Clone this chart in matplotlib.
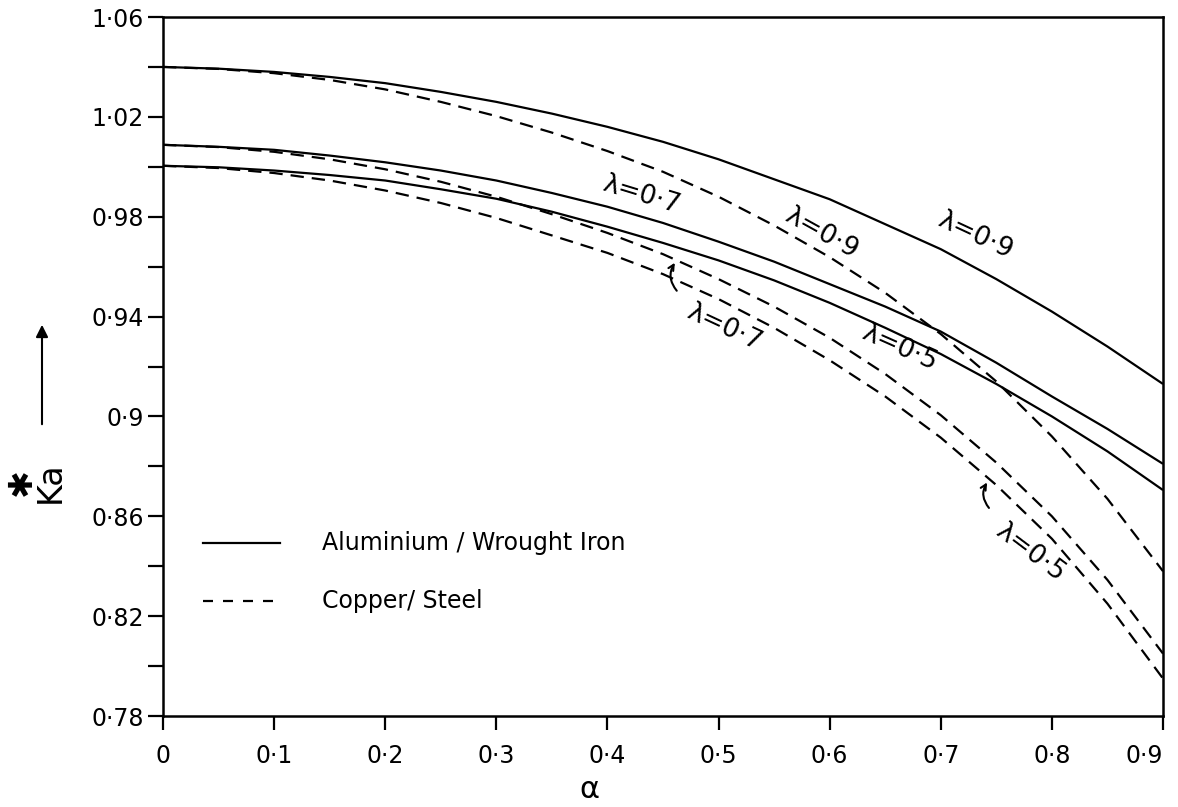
import matplotlib
matplotlib.use("Agg")
import matplotlib.pyplot as plt
from matplotlib.ticker import MultipleLocator, FixedLocator
from matplotlib.patches import FancyArrowPatch

plt.rcParams['font.family'] = ['DejaVu Sans']

# ---- data ----
alpha = [0.0, 0.05, 0.1, 0.15, 0.2, 0.25, 0.3, 0.35, 0.4, 0.45,
         0.5, 0.55, 0.6, 0.65, 0.7, 0.75, 0.8, 0.85, 0.9]

# Aluminium / Wrought Iron (solid)
al_l09 = [1.040, 1.0393, 1.038, 1.036, 1.0335, 1.030, 1.026, 1.0213, 1.016, 1.010,
          1.003, 0.995, 0.987, 0.977, 0.967, 0.955, 0.942, 0.928, 0.913]
al_l07 = [1.0088, 1.008, 1.0068, 1.0045, 1.0018, 0.9985, 0.9945, 0.9895, 0.984, 0.9775,
          0.970, 0.962, 0.953, 0.944, 0.934, 0.9215, 0.908, 0.895, 0.881]
al_l05 = [1.0004, 0.9998, 0.9985, 0.9967, 0.9945, 0.991, 0.9872, 0.982, 0.976, 0.9695,
          0.9625, 0.9545, 0.9455, 0.9355, 0.925, 0.913, 0.900, 0.886, 0.8705]

# Copper / Steel (dashed)
cu_l09 = [1.040, 1.0392, 1.0375, 1.0348, 1.031, 1.026, 1.0203, 1.0137, 1.0063, 0.998,
          0.988, 0.9765, 0.9638, 0.9495, 0.933, 0.914, 0.892, 0.867, 0.838]
cu_l07 = [1.0088, 1.0079, 1.006, 1.003, 0.999, 0.994, 0.988, 0.981, 0.9735, 0.965,
          0.955, 0.944, 0.9315, 0.917, 0.9005, 0.8815, 0.860, 0.8345, 0.805]
cu_l05 = [1.0004, 0.9995, 0.9975, 0.9945, 0.9905, 0.9855, 0.9795, 0.9725, 0.9655, 0.957,
          0.947, 0.9355, 0.9225, 0.908, 0.8915, 0.8725, 0.851, 0.825, 0.795]

x_ticks = [0.0, 0.1, 0.2, 0.3, 0.4, 0.5, 0.6, 0.7, 0.8, 0.9]
x_ticklabels = ["0", "0·1", "0·2", "0·3", "0·4", "0·5", "0·6", "0·7", "0·8", "0·9"]
y_ticks = [0.78, 0.82, 0.86, 0.90, 0.94, 0.98, 1.02, 1.06]
y_ticklabels = ["0·78", "0·82", "0·86", "0·9", "0·94", "0·98", "1·02", "1·06"]

legend_labels = ["Aluminium / Wrought Iron", "Copper/ Steel"]

# ---- figure ----
fig = plt.figure(figsize=(11.78, 8.07), dpi=100)
ax = fig.add_axes([163/1178, 1-716/807, 1000/1178, 699/807])

lw = 1.6
dash = (6.0, 3.6)
for ys in (al_l09, al_l07, al_l05):
    ax.plot(alpha, ys, color='black', lw=lw, solid_capstyle='butt')
for ys in (cu_l09, cu_l07, cu_l05):
    ax.plot(alpha, ys, color='black', lw=lw, linestyle=(0, dash))

ax.set_xlim(0, 0.9)
ax.set_ylim(0.78, 1.06)

ax.xaxis.set_major_locator(FixedLocator(x_ticks))
ax.set_xticklabels(x_ticklabels)
ax.yaxis.set_major_locator(FixedLocator(y_ticks))
ax.set_yticklabels(y_ticklabels)
ax.yaxis.set_minor_locator(MultipleLocator(0.02))

for s in ax.spines.values():
    s.set_linewidth(1.8)
ax.tick_params(axis='y', which='both', direction='out', length=11, width=1.6,
               labelsize=17, pad=3)
ax.tick_params(axis='x', which='major', direction='out', length=10, width=1.6,
               labelsize=17, pad=10)
last = ax.get_xticklabels()[-1]
last.set_horizontalalignment('right')

# legend drawn manually
ax.plot([0.04, 0.117], [0.2475, 0.2475], transform=ax.transAxes, color='black', lw=lw)
ax.plot([0.04, 0.117], [0.1645, 0.1645], transform=ax.transAxes, color='black', lw=lw,
        linestyle=(0, (4.5, 4.5)))
ax.text(0.159, 0.2475, legend_labels[0], transform=ax.transAxes, fontsize=17,
        va='center', ha='left')
ax.text(0.159, 0.1645, legend_labels[1], transform=ax.transAxes, fontsize=17,
        va='center', ha='left')

# curve labels
lab_kw = dict(fontsize=19, ha='center', va='center', rotation_mode='anchor')
ax.text(0.731, 0.9724, "λ=0·9", rotation=-25, **lab_kw)
ax.text(0.593, 0.9736, "λ=0·9", rotation=-29, **lab_kw,
        bbox=dict(facecolor='white', edgecolor='none', pad=0.5))
ax.text(0.431, 0.9888, "λ=0·7", rotation=-17, **lab_kw)
ax.text(0.505, 0.9355, "λ=0·7", rotation=-25, **lab_kw)
ax.text(0.663, 0.9275, "λ=0·5", rotation=-24, **lab_kw)
ax.text(0.781, 0.8455, "λ=0·5", rotation=-37, **lab_kw)

# little curved pointers
ax.annotate("", xy=(0.462, 0.9625), xytext=(0.464, 0.9495),
            arrowprops=dict(arrowstyle='->', lw=1.5, color='black',
                            connectionstyle='arc3,rad=-0.4'))
ax.annotate("", xy=(0.743, 0.8745), xytext=(0.745, 0.8625),
            arrowprops=dict(arrowstyle='->', lw=1.5, color='black',
                            connectionstyle='arc3,rad=-0.4'))

# axis labels (star above "Ka", rotated)
fig.text(36/1178, 1-482/807, "✱\nKa", rotation=90, fontsize=24, ha='center',
         va='center', multialignment='center', linespacing=0.85)
fig.add_artist(FancyArrowPatch(
    (42/1178, 1-427/807), (42/1178, 1-322/807), transform=fig.transFigure,
    arrowstyle='-|>', mutation_scale=18, lw=1.5, color='black'))
fig.text(589/1178, 1-790/807, "α", fontsize=22, ha='center', va='center')

fig.savefig("out.png", dpi=100)
